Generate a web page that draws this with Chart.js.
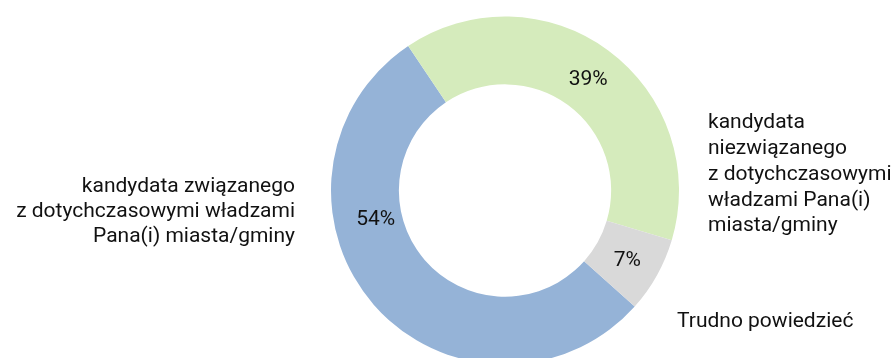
<!DOCTYPE html>
<html>
<head>
<meta charset="utf-8">
<script src="https://cdn.jsdelivr.net/npm/chart.js@4"></script>
<style>
  html, body { margin: 0; padding: 0; background: #fff; overflow: hidden; }
  #wrap { width: 896px; height: 381px; position: relative; }
</style>
</head>
<body>
<div id="wrap"><canvas id="chartPie"></canvas></div>
<script>
// dane
const categories = [
    ["kandydata związanego", "z dotychczasowymi władzami", "Pana(i) miasta/gminy"],
    ["kandydata", "niezwiązanego", "z dotychczasowymi", "władzami Pana(i)", "miasta/gminy"],
    ["Trudno powiedzieć"]
];
const values = [54, 39, 7];
const colors = ['#95B3D7', '#D5EBBC', '#D9D9D9'];

// gdzie wzdłuż łuku stoi etykieta z procentem (0..1)
const pctAlong = [0.65, 0.5, 0.5];

const FONT = '21px Roboto';
const TEXT = '#111';

const labelsPlugin = {
    id: 'labels',
    afterDatasetsDraw(chart) {
        const ctx = chart.ctx;
        const meta = chart.getDatasetMeta(0);
        ctx.save();
        ctx.font = FONT;
        ctx.fillStyle = TEXT;
        ctx.textBaseline = 'middle';

        meta.data.forEach((arc, i) => {
            const a = arc.startAngle + (arc.endAngle - arc.startAngle) * pctAlong[i];
            const r = (arc.innerRadius + arc.outerRadius) / 2 - (i === 0 ? 8 : 0);
            ctx.textAlign = 'center';
            ctx.fillText(values[i] + '%', arc.x + Math.cos(a) * r, arc.y + Math.sin(a) * r + 2);
        });

        const arc = meta.data[0];
        const cx = arc.x, cy = arc.y, R = arc.outerRadius;
        const lh = 25.8;

        // lewa etykieta
        ctx.textAlign = 'right';
        categories[0].forEach((t, k) => {
            ctx.fillText(t, cx - R - 36, cy + 21 + (k - 1) * 25);
        });

        // prawa etykieta
        ctx.textAlign = 'left';
        categories[1].forEach((t, k) => {
            ctx.fillText(t, cx + R + 29, cy - 16 + (k - 2) * lh);
        });

        categories[2].forEach((t, k) => {
            ctx.fillText(t, cx + R - 2, cy + 131.5 + k * lh);
        });
        ctx.restore();
    }
};

document.addEventListener("DOMContentLoaded", function () {
    const ctx = document.getElementById('chartPie').getContext('2d');
    new Chart(ctx, {
        type: 'doughnut',
        data: {
            labels: categories.map(c => c.join(' ')),
            datasets: [{
                data: values,
                backgroundColor: colors,
                borderWidth: 0,
                radius: 174,
                cutout: '61%'
            }]
        },
        options: {
            responsive: true,
            maintainAspectRatio: false,
            animation: false,
            rotation: 131.8,
            layout: { padding: { left: 114, right: 0, top: 0, bottom: 0 } },
            plugins: {
                legend: { display: false },
                tooltip: { enabled: false }
            }
        },
        plugins: [labelsPlugin]
    });
});
</script>
</body>
</html>
